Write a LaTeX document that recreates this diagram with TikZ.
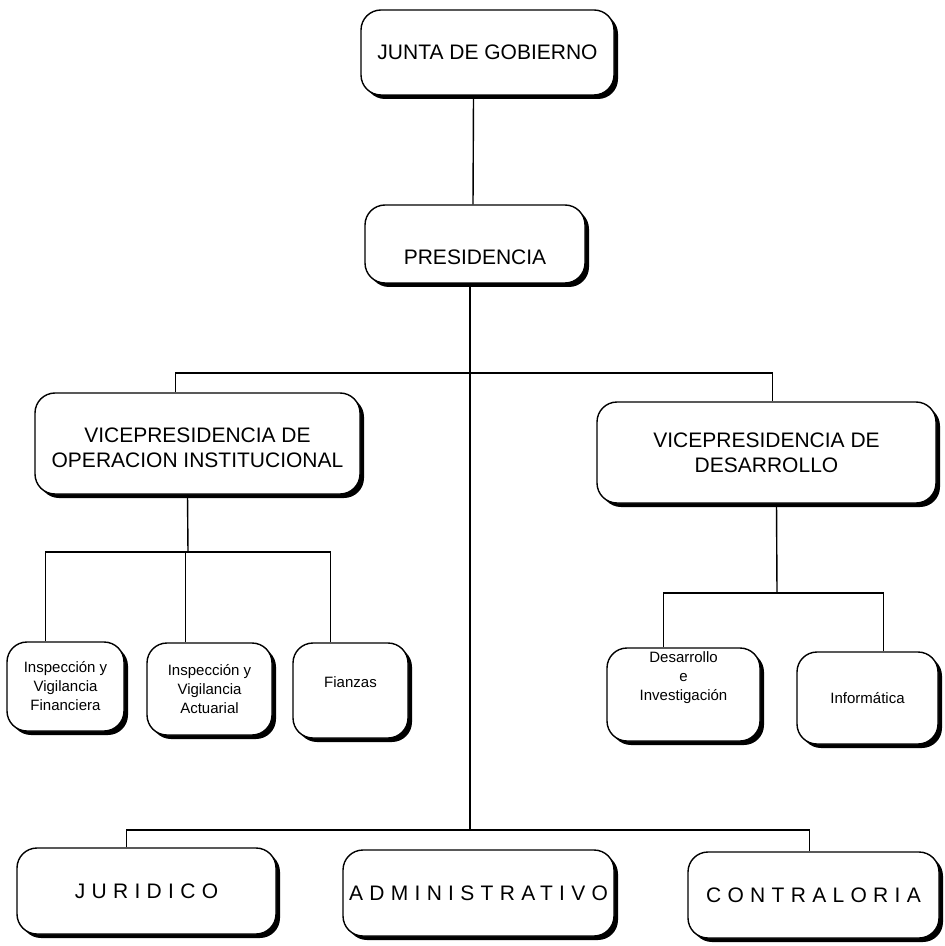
\documentclass[tikz,border=0pt]{standalone}
\usepackage{fontspec}
\setmainfont{Liberation Sans}
\newfontfamily\espaciada[LetterSpace=30]{Liberation Sans}
\usetikzlibrary{shadows}

\begin{document}
\begin{tikzpicture}[
		x=0.5pt, y=-0.5pt,
		line width=0.7pt,
		caja/.style={draw, rounded corners=10pt, fill=white, align=center, inner sep=0pt,
			drop shadow={shadow xshift=2pt, shadow yshift=-2pt, fill=black, opacity=1},
			font=\fontsize{10.5}{12.5}\selectfont},
		chica/.style={caja, font=\fontsize{7.5}{9.5}\selectfont},
		baja/.style={caja, font=\espaciada\fontsize{10.5}{12.5}\selectfont}
	]
	\useasboundingbox (0,0) rectangle (944,946);
	% cajas
	\node[caja, minimum width=126.5pt, minimum height=42.5pt] (junta) at (487.5,52.5) {JUNTA DE GOBIERNO};
	\node[caja, minimum width=110pt, minimum height=39pt] (pres) at (475,244) {\raisebox{-10.5pt}[0pt][0pt]{PRESIDENCIA}};
	\node[caja, minimum width=162.5pt, minimum height=50.5pt] (vpop) at (197.5,443.5) {\raisebox{-6pt}[0pt][0pt]{\begin{tabular}{@{}c@{}}VICEPRESIDENCIA DE\\OPERACION INSTITUCIONAL\end{tabular}}};
	\node[caja, minimum width=169.5pt, minimum height=50.5pt] (vpdes) at (766.5,452.5) {\raisebox{-4pt}[0pt][0pt]{\begin{tabular}{@{}c@{}}VICEPRESIDENCIA DE\\DESARROLLO\end{tabular}}};
	\node[chica, minimum width=58.5pt, minimum height=44.5pt] (insfin) at (65.5,686.5) {Inspección y\\Vigilancia\\Financiera};
	\node[chica, minimum width=62.5pt, minimum height=46pt] (insact) at (209.5,689) {Inspección y\\Vigilancia\\Actuarial};
	\node[chica, minimum width=57.5pt, minimum height=47.5pt] (fianzas) at (350.5,690.5) {\raisebox{1.5pt}[0pt][0pt]{Fianzas}};
	\node[chica, minimum width=76.5pt, minimum height=46.5pt] (desinv) at (683.5,694.5) {\raisebox{6.5pt}[0pt][0pt]{\begin{tabular}{@{}c@{}}Desarrollo\\e\\Investigación\end{tabular}}};
	\node[chica, minimum width=70.5pt, minimum height=46pt] (inform) at (867.5,698) {Informática};
	\node[baja, minimum width=129.5pt, minimum height=43pt] (jur) at (146.5,891) {JURIDICO};
	\node[baja, minimum width=135.5pt, minimum height=43pt] (adm) at (478.5,893) {ADMINISTRATIVO};
	\node[baja, minimum width=125.5pt, minimum height=43pt] (contra) at (813.5,895) {CONTRALORIA};
	% lineas
	\coordinate (tbar) at (470,373);
	\coordinate (bbar) at (470,830);
	\coordinate (lbar) at (188,552);
	\coordinate (rbar) at (777,593);
	\draw ([xshift=-7pt]junta.south) -- ([xshift=-1pt]pres.north);
	\draw ([xshift=-2.5pt]pres.south) -- (bbar);
	\draw ([xshift=-11pt]vpop.north) |- (tbar) -| ([xshift=3pt]vpdes.north);
	\draw ([xshift=-5pt]vpop.south) -- (lbar);
	\draw ([xshift=-10pt]insfin.north) |- (lbar) -| ([xshift=-10pt]fianzas.north);
	\draw ([xshift=-12pt]insact.north) -- ([xshift=-12pt]insact.north |- lbar);
	\draw ([xshift=5pt]vpdes.south) -- (rbar);
	\draw ([xshift=-10pt]desinv.north) |- (rbar) -| ([xshift=8pt]inform.north);
	\draw ([xshift=-10pt]jur.north) |- (bbar) -| ([xshift=-2pt]contra.north);
\end{tikzpicture}
\end{document}
